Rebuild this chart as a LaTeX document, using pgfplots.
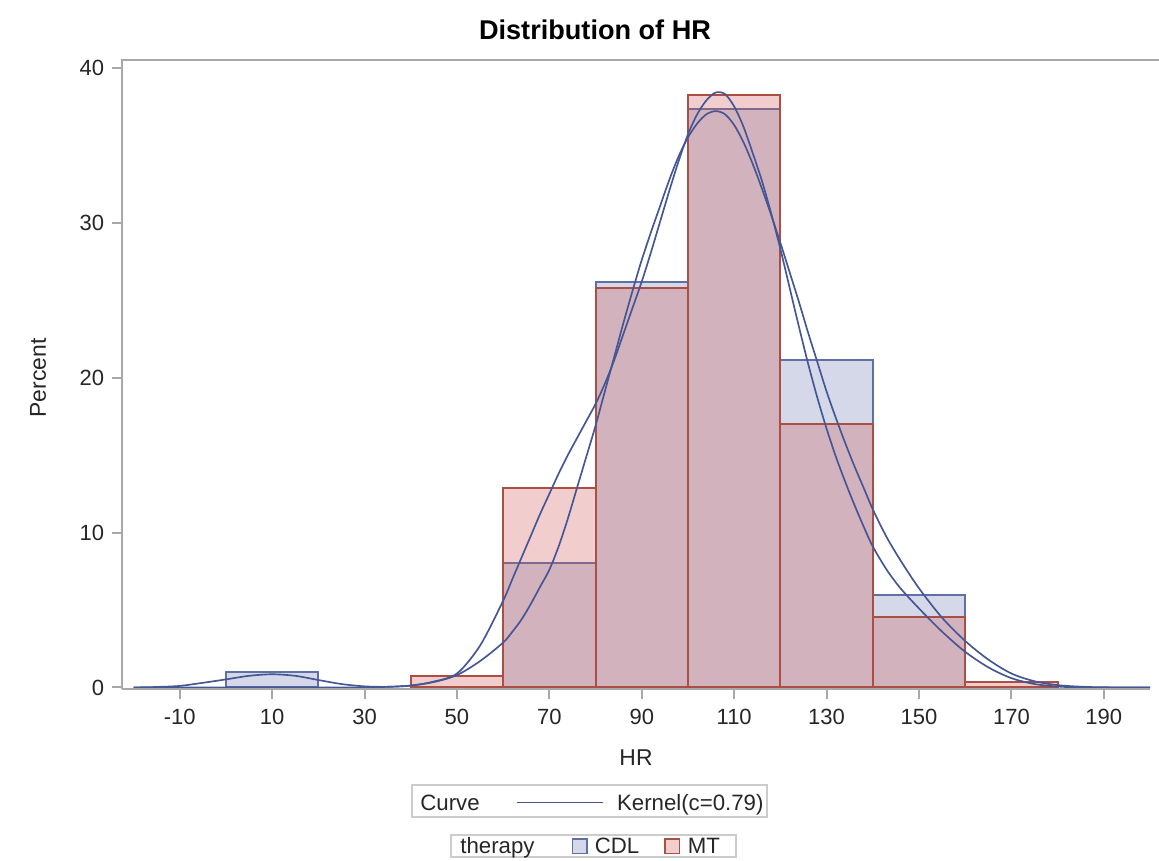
\documentclass[border=0pt]{standalone}
\usepackage{fontspec}
\setmainfont{Liberation Sans}
\usepackage{pgfplots}
\pgfplotsset{compat=1.18}
\usetikzlibrary{calc}
\definecolor{cdl}{HTML}{445694}
\definecolor{mt}{HTML}{A23A2E}
\definecolor{cdlfill}{HTML}{6F7EB3}
\definecolor{mtfill}{HTML}{D05B5B}
\definecolor{axgray}{HTML}{A8A8A8}
\definecolor{leggray}{HTML}{CCCCCC}
\begin{document}
\begin{tikzpicture}
\begin{axis}[
  scale only axis, width=462.6pt, height=283.05pt,
  xmin=-22.5, xmax=200, ymin=-0.1, ymax=40.5,
  clip=false,
  axis line style={draw=none},
  xtick={-10,10,30,50,70,90,110,130,150,170,190},
  ytick={0,10,20,30,40},
  xtick pos=bottom, ytick pos=left,
  tick align=outside, major tick length=4.5pt,
  tick style={axgray, line width=0.9pt},
  tick label style={font=\fontsize{9.9}{12}\selectfont, text=black!85},
  xticklabel shift=1pt,
  /pgf/number format/assume math mode=true,
]
\coordinate (BL) at (rel axis cs:0,0);
\coordinate (TR) at (rel axis cs:1,1);
% CDL histogram
\addplot[ybar interval, fill=cdlfill, fill opacity=0.3, draw=cdl!85, line width=0.9pt]
  coordinates {(0,0.99) (20,0.99)};
\addplot[ybar interval, fill=cdlfill, fill opacity=0.3, draw=cdl!85, line width=0.9pt]
  coordinates {(60,8.04) (80,26.2) (100,37.33) (120,21.16) (140,5.96) (160,5.96)};
% MT histogram
\addplot[ybar interval, fill=mtfill, fill opacity=0.3, draw=mt!90, line width=0.9pt]
  coordinates {(40,0.77) (60,12.88) (80,25.8) (100,38.26) (120,17.03) (140,4.56) (160,0.37) (180,0.37)};
% CDL kernel
\addplot[cdl, line width=0.75pt, smooth, tension=0.5] coordinates {
(-20,0) (-15,0.03) (-10,0.1) (-5,0.3) (0,0.52) (5,0.75) (10,0.85) (15,0.75) (20,0.48) (25,0.22) (30,0.07) (35,0.04) (40,0.12) (45,0.35) (50,0.8) (55,1.7) (60,2.9) (62,3.6) (64,4.4) (66,5.4) (68,6.5) (70,7.6) (72,9.1) (74,10.9) (76,12.9) (78,14.9) (80,16.9) (82,19.1) (84,21.3) (86,23.5) (88,25.6) (90,27.6) (92,29.4) (94,31.1) (96,32.8) (98,34.3) (100,35.5) (102,36.4) (104,37.0) (106,37.2) (108,37.0) (110,36.3) (112,35.2) (114,33.8) (116,32.2) (118,30.5) (120,28.7) (122,26.8) (124,24.9) (126,22.9) (128,21.0) (130,19.1) (132,17.4) (134,15.8) (136,14.3) (138,12.9) (140,11.5) (143,9.7) (146,8.2) (150,6.4) (155,4.5) (160,3.0) (165,1.8) (170,0.9) (175,0.4) (180,0.15) (185,0.05) (190,0.01) (200,0)};
% MT kernel
\addplot[cdl, line width=0.75pt, smooth, tension=0.5] coordinates {
(-20,0) (20,0) (30,0.01) (35,0.04) (40,0.12) (45,0.38) (50,0.9) (55,2.7) (60,5.6) (62,7.0) (64,8.4) (66,9.8) (68,11.2) (70,12.5) (72,13.8) (74,15.0) (76,16.1) (78,17.2) (80,18.3) (82,19.6) (84,21.1) (86,22.8) (88,24.5) (90,26.2) (92,28.1) (94,30.1) (96,32.1) (98,34.0) (100,35.7) (102,37.0) (104,37.9) (106,38.4) (108,38.3) (110,37.5) (112,36.2) (114,34.5) (116,32.7) (118,30.6) (120,28.3) (122,25.8) (124,23.3) (126,20.9) (128,18.7) (130,16.7) (132,14.9) (134,13.3) (136,11.8) (138,10.4) (140,9.1) (143,7.6) (146,6.4) (150,5.1) (155,3.6) (160,2.3) (165,1.3) (170,0.6) (175,0.22) (180,0.06) (185,0.01) (200,0)};
\end{axis}
% frame lines
\draw[axgray, line width=0.9pt] (BL) -- (BL |- TR) -- ($(TR)+(4.05pt,0)$);
\draw[axgray, line width=0.9pt] (BL) -- (BL -| TR);
% title and labels
\node[font=\bfseries\fontsize{12.2}{14}\selectfont] at ($(BL)+(212.85pt,296.55pt)$) {Distribution of HR};
\node[font=\fontsize{10.3}{12}\selectfont, text=black!85] at ($(BL)+(231.3pt,-31.05pt)$) {HR};
\node[font=\fontsize{10.3}{12}\selectfont, text=black!85, rotate=90] at ($(BL)+(-37.8pt,139.95pt)$) {Percent};
% legend 1
\draw[leggray, line width=0.9pt] ($(BL)+(130.4pt,-43.2pt)$) rectangle ($(BL)+(290.1pt,-57.5pt)$);
\node[font=\fontsize{10}{12}\selectfont, anchor=base west, inner sep=0pt, text=black!85] at ($(BL)+(134.1pt,-54.6pt)$) {Curve};
\draw[cdl, line width=0.75pt] ($(BL)+(177.6pt,-51pt)$) -- ($(BL)+(216.6pt,-51pt)$);
\node[font=\fontsize{10}{12}\selectfont, anchor=base west, inner sep=0pt, text=black!85] at ($(BL)+(222.6pt,-54.6pt)$) {Kernel(c=0.79)};
% legend 2
\draw[leggray, line width=0.9pt] ($(BL)+(147.9pt,-65.7pt)$) rectangle ($(BL)+(276.3pt,-75.6pt)$);
\node[font=\fontsize{10}{12}\selectfont, anchor=base west, inner sep=0pt, text=black!85] at ($(BL)+(152.1pt,-74.2pt)$) {therapy};
\draw[draw=cdl!85, fill=cdlfill!30, line width=0.7pt] ($(BL)+(202.8pt,-67.5pt)$) rectangle ($(BL)+(209.3pt,-74pt)$);
\node[font=\fontsize{10}{12}\selectfont, anchor=base west, inner sep=0pt, text=black!85] at ($(BL)+(212.6pt,-74.2pt)$) {CDL};
\draw[draw=mt!90, fill=mtfill!30, line width=0.7pt] ($(BL)+(244.3pt,-67.5pt)$) rectangle ($(BL)+(250.8pt,-74pt)$);
\node[font=\fontsize{10}{12}\selectfont, anchor=base west, inner sep=0pt, text=black!85] at ($(BL)+(254.4pt,-74.2pt)$) {MT};
% bounding box
\pgfresetboundingbox
\path ($(BL)+(-54.9pt,-77.4pt)$) rectangle ($(BL)+(466.65pt,310.05pt)$);
\end{tikzpicture}
\end{document}
